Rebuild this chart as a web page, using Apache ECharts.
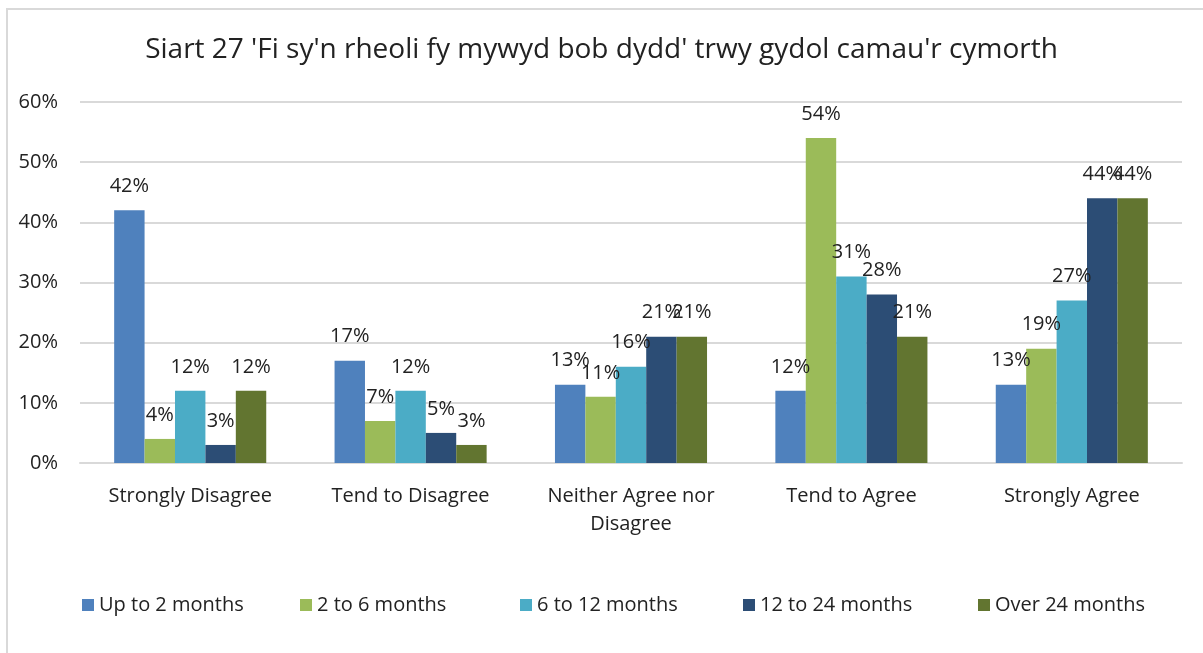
<!DOCTYPE html>
<html>
<head>
<meta charset="utf-8">
<script src="https://cdn.jsdelivr.net/npm/echarts@6/dist/echarts.min.js"></script>
<style>
    html, body { margin: 0; padding: 0; background: #fff; overflow: hidden; }
    #frame {
        position: absolute; left: 6px; top: 8px; width: 1400px; height: 800px;
        border: 2px solid #d9d9d9;
    }
    #myEcharts { position: absolute; left: 0; top: 0; width: 1203px; height: 653px; }
</style>
</head>
<body>
<div id="frame"></div>
<div id="myEcharts"></div>
<script>
const categories = ['Strongly Disagree', 'Tend to Disagree', 'Neither Agree nor\nDisagree', 'Tend to Agree', 'Strongly Agree'];
const seriesNames = ['Up to 2 months', '2 to 6 months', '6 to 12 months', '12 to 24 months', 'Over 24 months'];
const upTo2 = [42, 17, 13, 12, 13];
const from2to6 = [4, 7, 11, 54, 19];
const from6to12 = [12, 12, 16, 31, 27];
const from12to24 = [3, 5, 21, 28, 44];
const over24 = [12, 3, 21, 21, 44];
const yTicks = [0, 10, 20, 30, 40, 50, 60];
const colors = ['#4f81bd', '#9bbb59', '#4bacc6', '#2c4d75', '#627530'];

const font = 'Open Sans';
const values = [upTo2, from2to6, from6to12, from12to24, over24];
// legend item left edges, one legend per series
const legendLeft = [82, 300, 520, 743, 978];

let chart = echarts.init(document.getElementById('myEcharts'));
chart.setOption({
    color: colors,
    textStyle: { fontFamily: font },
    title: {
        text: "Siart 27 'Fi sy'n rheoli fy mywyd bob dydd' trwy gydol camau'r cymorth",
        left: 'center',
        top: 31,
        textStyle: { fontFamily: font, fontSize: 28, fontWeight: 'normal', color: '#222' }
    },
    legend: seriesNames.map((name, i) => ({
        top: 595,
        left: legendLeft[i],
        padding: 0,
        itemWidth: 12,
        itemHeight: 12,
        itemGap: 5,
        icon: 'rect',
        textStyle: { fontFamily: font, fontSize: 20, color: '#222' },
        data: [name]
    })),
    grid: { left: 80, right: 21, top: 102, bottom: 190 },
    xAxis: {
        type: 'category',
        data: categories,
        axisLine: { lineStyle: { color: '#d9d9d9', width: 2 } },
        axisTick: { show: false },
        axisLabel: { fontSize: 20, color: '#222', margin: 19, lineHeight: 28, interval: 0 }
    },
    yAxis: {
        type: 'value',
        min: yTicks[0],
        max: yTicks[yTicks.length - 1],
        interval: 10,
        axisLabel: { formatter: '{value}%', fontSize: 20, color: '#222', margin: 22 },
        splitLine: { lineStyle: { color: '#d9d9d9', width: 2 } }
    },
    series: seriesNames.map((name, i) => ({
        name: name,
        type: 'bar',
        data: values[i],
        barGap: '0%',
        barCategoryGap: '31%',
        label: {
            show: true,
            position: 'top',
            distance: 14,
            formatter: '{c}%',
            fontSize: 20,
            color: '#222'
        }
    }))
});
</script>
</body>
</html>
